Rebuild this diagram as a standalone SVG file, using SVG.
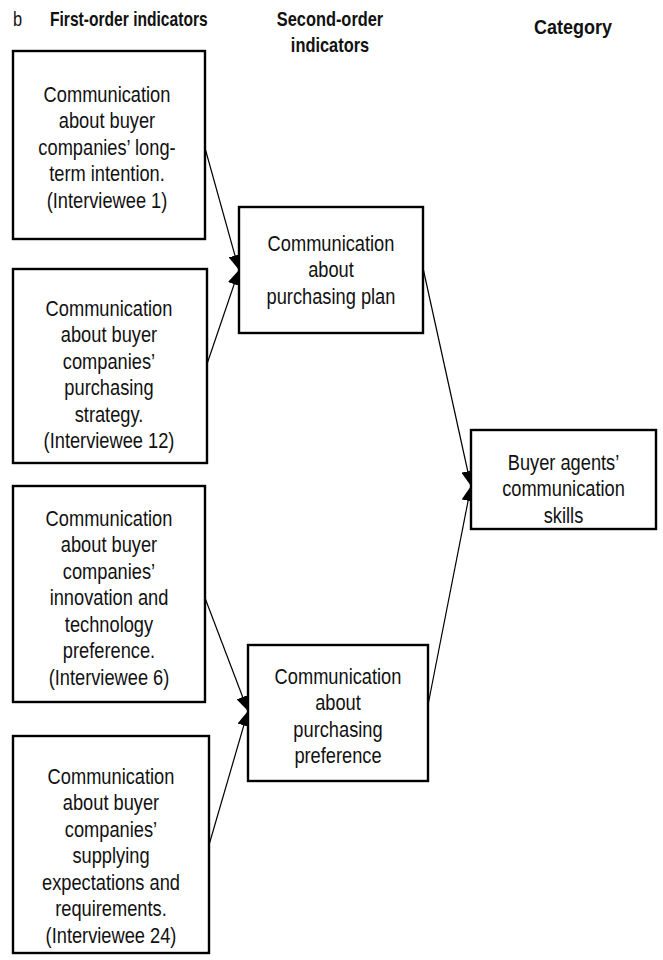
<svg xmlns="http://www.w3.org/2000/svg" width="663" height="960" viewBox="0 0 663 960">
  <defs>
    <marker id="arrow" markerUnits="userSpaceOnUse" markerWidth="16" markerHeight="13" refX="15" refY="6.5" orient="auto">
      <path d="M0,0 L15,6.5 L0,13 Z" fill="#000"/>
    </marker>
  </defs>
  <style>
    .box { fill: #fff; stroke: #000; stroke-width: 2.4; }
    .lbl { font-family: "Liberation Sans", Arial, sans-serif; font-size: 22px; fill: #111; text-anchor: middle; }
    .hdr { font-family: "Liberation Sans", Arial, sans-serif; font-size: 20px; font-weight: bold; fill: #111; }
    .link { stroke: #000; stroke-width: 1.2; fill: none; marker-end: url(#arrow); }
  </style>
  <rect width="663" height="960" fill="#fff"/>

  <!-- column headings (narrow face via horizontal scaling) -->
  <g id="headings">
    <text class="hdr" style="font-weight:normal" transform="matrix(0.82 0 0 1 13 26)">b</text>
    <text class="hdr" transform="matrix(0.78 0 0 1 50 26)">First-order indicators</text>
    <g transform="matrix(0.82 0 0 1 330 0)">
      <text class="hdr" text-anchor="middle" y="26">Second-order</text>
      <text class="hdr" text-anchor="middle" y="52">indicators</text>
    </g>
    <text class="hdr" text-anchor="middle" transform="matrix(0.9 0 0 1 573 34)">Category</text>
  </g>

  <!-- connectors -->
  <g id="connectors">
    <line class="link" x1="205" y1="148" x2="239" y2="270"/>
    <line class="link" x1="207" y1="364" x2="239" y2="270"/>
    <line class="link" x1="205" y1="598" x2="248" y2="711"/>
    <line class="link" x1="209" y1="845" x2="248" y2="711"/>
    <line class="link" x1="423" y1="268" x2="471" y2="486"/>
    <line class="link" x1="428" y1="705" x2="471" y2="486"/>
  </g>

  <!-- first-order indicators -->
  <g id="node-longterm">
    <rect class="box" x="13" y="51" width="192" height="188"/>
    <g class="lbl" transform="matrix(0.83 0 0 1 107 0)">
      <text y="102">Communication</text>
      <text y="128.5">about buyer</text>
      <text y="155">companies’ long-</text>
      <text y="181.5">term intention.</text>
      <text y="208">(Interviewee 1)</text>
    </g>
  </g>

  <g id="node-strategy">
    <rect class="box" x="13" y="269" width="194" height="194"/>
    <g class="lbl" transform="matrix(0.83 0 0 1 109 0)">
      <text y="316">Communication</text>
      <text y="342.5">about buyer</text>
      <text y="369">companies’</text>
      <text y="395.5">purchasing</text>
      <text y="422">strategy.</text>
      <text y="448.5">(Interviewee 12)</text>
    </g>
  </g>

  <g id="node-innovation">
    <rect class="box" x="13" y="486" width="192" height="216"/>
    <g class="lbl" transform="matrix(0.83 0 0 1 109 0)">
      <text y="526">Communication</text>
      <text y="552.5">about buyer</text>
      <text y="579">companies’</text>
      <text y="605.5">innovation and</text>
      <text y="632">technology</text>
      <text y="658.5">preference.</text>
      <text y="685">(Interviewee 6)</text>
    </g>
  </g>

  <g id="node-supplying">
    <rect class="box" x="13" y="736" width="196" height="217"/>
    <g class="lbl" transform="matrix(0.83 0 0 1 111 0)">
      <text y="784">Communication</text>
      <text y="810.5">about buyer</text>
      <text y="837">companies’</text>
      <text y="863.5">supplying</text>
      <text y="890">expectations and</text>
      <text y="916.5">requirements.</text>
      <text y="943">(Interviewee 24)</text>
    </g>
  </g>

  <!-- second-order indicators -->
  <g id="node-plan">
    <rect class="box" x="239" y="207" width="184" height="126"/>
    <g class="lbl" transform="matrix(0.83 0 0 1 331 0)">
      <text y="251">Communication</text>
      <text y="277.5">about</text>
      <text y="304">purchasing plan</text>
    </g>
  </g>

  <g id="node-preference">
    <rect class="box" x="248" y="645" width="180" height="136"/>
    <g class="lbl" transform="matrix(0.83 0 0 1 338 0)">
      <text y="684">Communication</text>
      <text y="710.5">about</text>
      <text y="737">purchasing</text>
      <text y="763.5">preference</text>
    </g>
  </g>

  <!-- category -->
  <g id="node-category">
    <rect class="box" x="471" y="430" width="185" height="99"/>
    <g class="lbl" transform="matrix(0.83 0 0 1 563.5 0)">
      <text y="470">Buyer agents’</text>
      <text y="496.5">communication</text>
      <text y="523">skills</text>
    </g>
  </g>
</svg>
